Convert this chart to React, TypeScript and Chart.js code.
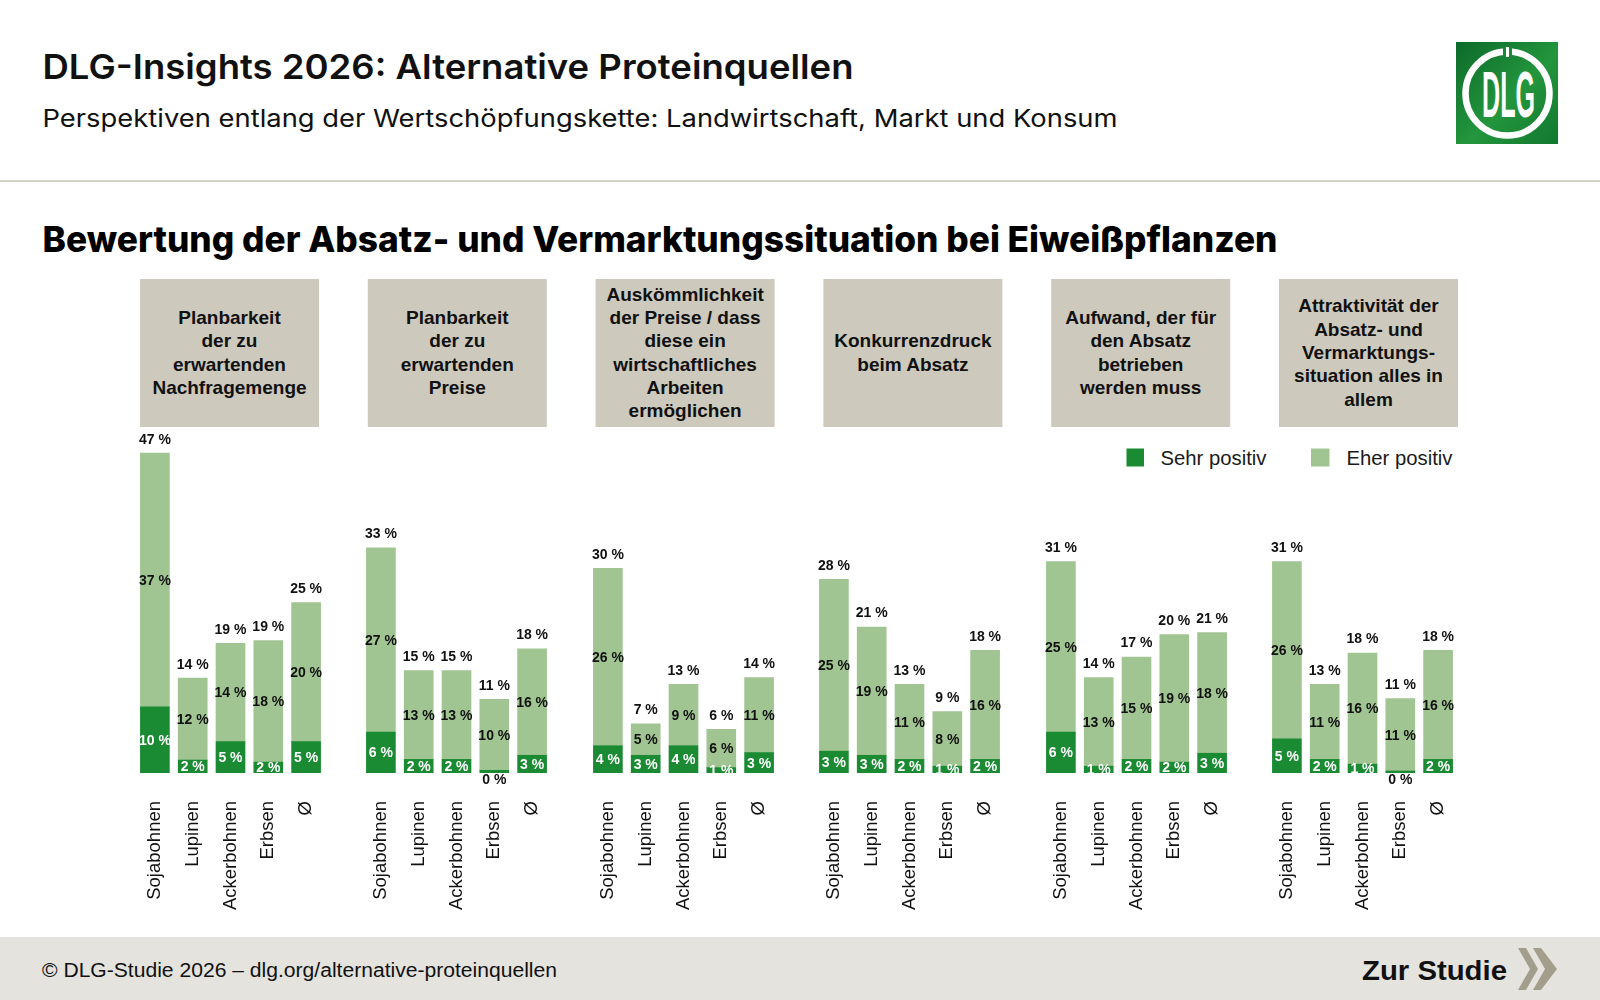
import React, { useEffect, useRef } from "react";
import { Chart, registerables } from "chart.js";

Chart.register(...registerables);

// ---------- DATA ----------
const categories = ["Sojabohnen", "Lupinen", "Ackerbohnen", "Erbsen", "Ø"];
const seriesNames = ["Sehr positiv", "Eher positiv"];

const groupTitles: string[][] = [
  ["Planbarkeit", "der zu", "erwartenden", "Nachfragemenge"],
  ["Planbarkeit", "der zu", "erwartenden", "Preise"],
  ["Auskömmlichkeit", "der Preise / dass", "diese ein", "wirtschaftliches", "Arbeiten", "ermöglichen"],
  ["Konkurrenzdruck", "beim Absatz"],
  ["Aufwand, der für", "den Absatz", "betrieben", "werden muss"],
  ["Attraktivität der", "Absatz- und", "Vermarktungs-", "situation alles in", "allem"],
];

// "Sehr positiv" per group (Sojabohnen, Lupinen, Ackerbohnen, Erbsen, Ø)
const sehrPositiv: number[][] = [
  [9.7, 1.9, 4.6, 1.6, 4.6],
  [6, 2, 2, 0.4, 2.6],
  [4, 2.6, 4, 0.8, 3],
  [3.2, 2.6, 2, 1, 2],
  [6, 1, 2, 1.6, 2.9],
  [5, 2, 1.3, 0.3, 2],
];

// "Eher positiv" per group
const eherPositiv: number[][] = [
  [37.2, 12.0, 14.4, 17.8, 20.4],
  [27, 13, 13, 10.4, 15.6],
  [26, 4.6, 9, 5.6, 11],
  [25.2, 18.8, 11, 8, 16],
  [25, 13, 15, 18.7, 17.7],
  [26, 11, 16.3, 10.6, 16],
];

const yMax = 50;

// ---------- STYLE ----------
const DARK = "#1a8b32";
const LIGHT = "#a1c592";
const BOX = "#cdc9bd";
const TEXT = "#111111";
const SANS = '"Liberation Sans", Arial, Helvetica, sans-serif';
const HEAD = 'Inter, "Noto Sans", sans-serif';

const labelPlugin = {
  id: "valueLabels",
  afterDatasetsDraw(chart: any) {
    const ctx = chart.ctx as CanvasRenderingContext2D;
    const m0 = chart.getDatasetMeta(0);
    const m1 = chart.getDatasetMeta(1);
    const d0 = chart.data.datasets[0].data as number[];
    const d1 = chart.data.datasets[1].data as number[];
    const area = chart.chartArea;
    ctx.save();
    ctx.font = `bold 14px ${SANS}`;
    ctx.textAlign = "center";
    ctx.textBaseline = "middle";
    m0.data.forEach((bar0: any, i: number) => {
      const bar1 = m1.data[i];
      const s = d0[i];
      const e = d1[i];
      const total = Math.round(s + e);
      ctx.fillStyle = TEXT;
      ctx.fillText(`${total} %`, bar1.x, bar1.y - 13.5);
      ctx.fillText(`${Math.round(e)} %`, bar1.x, (bar1.y + bar1.base) / 2 + 1);
      const sr = Math.round(s);
      if (sr === 0) {
        ctx.fillText("0 %", bar0.x, area.bottom + 7);
      } else {
        ctx.save();
        ctx.beginPath();
        ctx.rect(area.left, area.top, area.right - area.left, area.bottom - area.top);
        ctx.clip();
        ctx.fillStyle = "#ffffff";
        ctx.fillText(`${sr} %`, bar0.x, (bar0.y + bar0.base) / 2 + 1);
        ctx.restore();
      }
    });
    ctx.restore();
  },
};

function GroupChart({ sehr, eher, left }: { sehr: number[]; eher: number[]; left: number }) {
  const ref = useRef<HTMLCanvasElement | null>(null);
  useEffect(() => {
    if (!ref.current) return;
    const chart = new Chart(ref.current, {
      type: "bar",
      data: {
        labels: categories,
        datasets: [
          { label: seriesNames[0], data: sehr, backgroundColor: DARK, barThickness: 29, stack: "s", borderWidth: 0 },
          { label: seriesNames[1], data: eher, backgroundColor: LIGHT, barThickness: 29, stack: "s", borderWidth: 0 },
        ],
      },
      options: {
        animation: false,
        responsive: true,
        maintainAspectRatio: false,
        layout: { padding: 0, autoPadding: false },
        plugins: { legend: { display: false }, tooltip: { enabled: false } },
        scales: {
          x: {
            stacked: true,
            grid: { display: false, drawTicks: false },
            border: { display: false },
            ticks: {
              autoSkip: false,
              minRotation: 90,
              maxRotation: 90,
              padding: 28,
              color: TEXT,
              font: { family: SANS, size: 18.5 },
            },
            afterFit: (scale: any) => {
              scale.height = 140;
              scale.paddingLeft = 0;
              scale.paddingRight = 0;
            },
          },
          y: { stacked: true, display: false, min: 0, max: yMax },
        },
      } as any,
      plugins: [labelPlugin],
    });
    return () => chart.destroy();
  }, [sehr, eher]);
  return (
    <div style={{ position: "absolute", left, top: 432, width: 189, height: 481 }}>
      <canvas ref={ref} />
    </div>
  );
}

export default function App() {
  const boxX = (i: number) => 140 + i * 227.8;
  const barX = (i: number) => 140 + i * 226.55 - 4.4;
  return (
    <div
      style={{
        position: "absolute",
        left: 0,
        top: 0,
        width: 1600,
        height: 1000,
        background: "#ffffff",
        overflow: "hidden",
      }}
    >
      <svg width={1600} height={1000} style={{ position: "absolute", left: 0, top: 0 }}>
        <defs>
          <linearGradient id="lg" x1="0" y1="0" x2="1" y2="1">
            <stop offset="0" stopColor="#0c6a2a" />
            <stop offset="0.55" stopColor="#23963d" />
            <stop offset="1" stopColor="#12772f" />
          </linearGradient>
        </defs>
        {/* header */}
        <text x={42.5} y={79} fontFamily={HEAD} fontWeight={600} fontSize={34.5} fill={TEXT}
          textLength={811} lengthAdjust="spacingAndGlyphs">
          DLG-Insights 2026: Alternative Proteinquellen
        </text>
        <text x={42.5} y={126.5} fontFamily={HEAD} fontWeight={400} fontSize={24.5} fill={TEXT}
          textLength={1075} lengthAdjust="spacingAndGlyphs">
          Perspektiven entlang der Wertschöpfungskette: Landwirtschaft, Markt und Konsum
        </text>
        {/* logo */}
        <rect x={1456} y={42} width={102} height={102} fill="url(#lg)" />
        <circle cx={1507.5} cy={93.5} r={42} fill="none" stroke="#ffffff" strokeWidth={6.5} />
        <rect x={1503} y={47} width={9} height={9} fill="#1a8a36" />
        <rect x={1506} y={47} width={3} height={10} fill="#ffffff" />
        <text x={1508.5} y={117} textAnchor="middle" fontFamily={'"Liberation Sans Narrow", "Liberation Sans", sans-serif'}
          fontWeight={700} fontSize={64} fill="#ffffff" textLength={53} lengthAdjust="spacingAndGlyphs">
          DLG
        </text>
        {/* separator */}
        <rect x={0} y={180} width={1600} height={2} fill="#d5d2c9" />
        {/* section title */}
        <text x={42.5} y={252} fontFamily={HEAD} fontWeight={800} fontSize={35.5} fill="#000000"
          textLength={1235} lengthAdjust="spacingAndGlyphs">
          Bewertung der Absatz- und Vermarktungssituation bei Eiweißpflanzen
        </text>
        {/* group header boxes */}
        {groupTitles.map((lines, i) => {
          const x = boxX(i);
          const cy = 353.5;
          const lh = 23.3;
          const first = cy - ((lines.length - 1) * lh) / 2;
          return (
            <g key={i}>
              <rect x={x} y={279} width={179} height={148} fill={BOX} />
              {lines.map((ln, j) => (
                <text key={j} x={x + 89.5} y={first + j * lh + 5.5} textAnchor="middle" fontFamily={SANS}
                  fontWeight={700} fontSize={19} fill={TEXT}>
                  {ln}
                </text>
              ))}
            </g>
          );
        })}
        {/* legend */}
        <rect x={1126.5} y={448.5} width={17.5} height={18} fill={DARK} />
        <text x={1160.5} y={465} fontFamily={SANS} fontSize={20.3} fill="#1a1a1a">{seriesNames[0]}</text>
        <rect x={1311} y={448.5} width={18.5} height={18} fill={LIGHT} />
        <text x={1346.5} y={465} fontFamily={SANS} fontSize={20.3} fill="#1a1a1a">{seriesNames[1]}</text>
        {/* footer */}
        <rect x={0} y={937} width={1600} height={63} fill="#e4e3de" />
        <text x={42} y={976.5} fontFamily={SANS} fontSize={20} fill={TEXT} textLength={515} lengthAdjust="spacingAndGlyphs">
          © DLG-Studie 2026 – dlg.org/alternative-proteinquellen
        </text>
        <text x={1362} y={980} fontFamily={SANS} fontWeight={700} fontSize={28.5} fill={TEXT} textLength={145}
          lengthAdjust="spacingAndGlyphs">
          Zur Studie
        </text>
        <polygon points="1518,948 1526,948 1538,969 1526,990 1518,990 1530,969" fill="#a39e8b" />
        <polygon points="1533,948 1541,948 1557,969 1541,990 1533,990 1545,969" fill="#a39e8b" />
      </svg>
      {sehrPositiv.map((s, i) => (
        <GroupChart key={i} sehr={s} eher={eherPositiv[i]} left={barX(i)} />
      ))}
    </div>
  );
}
